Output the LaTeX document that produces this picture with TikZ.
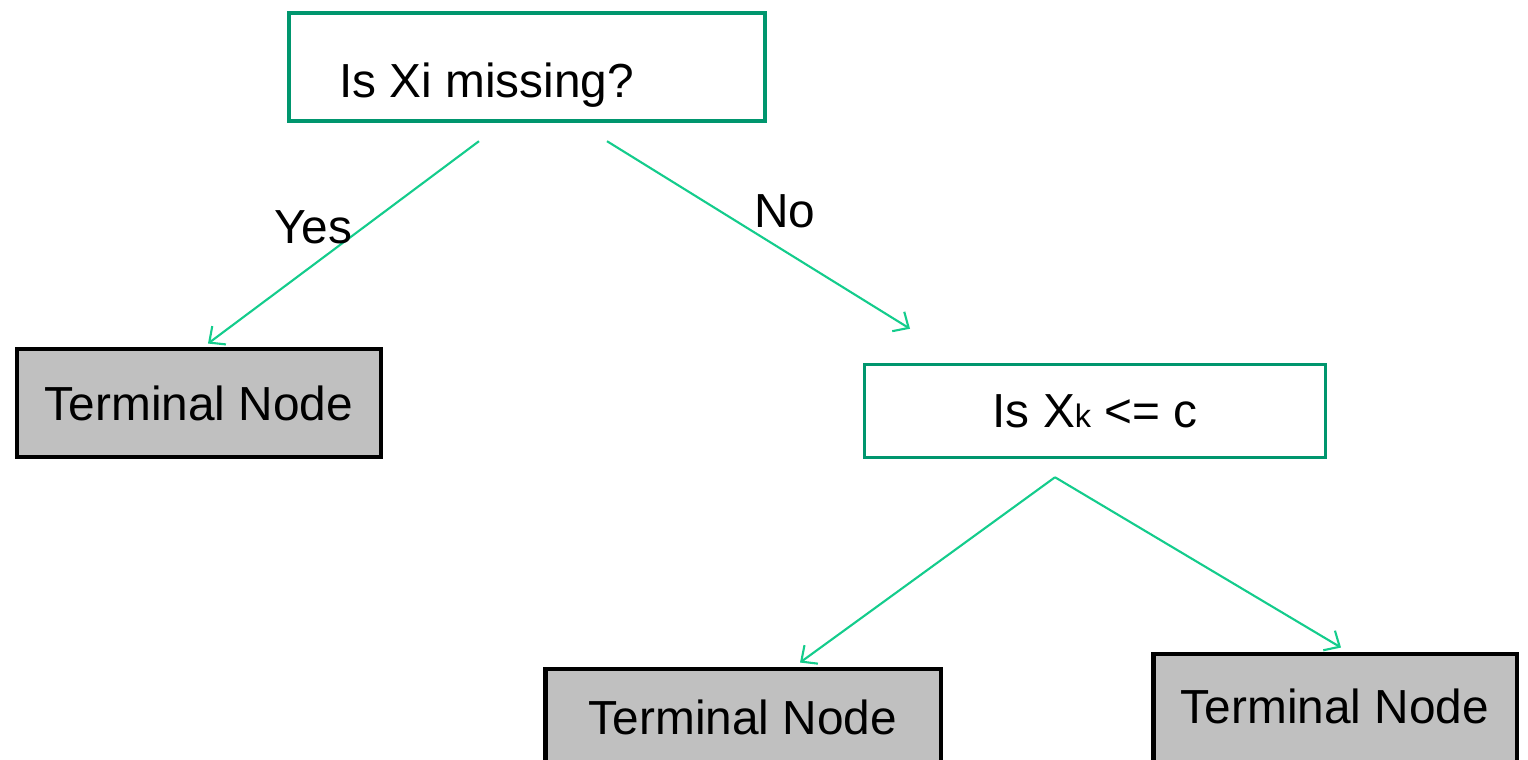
\documentclass[tikz,border=0pt]{standalone}
\usepackage{fontspec}
\setmainfont{Liberation Sans}
\usetikzlibrary{arrows.meta, calc}
\definecolor{boxgreen}{RGB}{0,150,110}
\definecolor{arrowgreen}{RGB}{20,204,140}
\definecolor{termgray}{RGB}{192,192,192}

\begin{document}
\begin{tikzpicture}[x=0.02cm, y=-0.02cm,
                every node/.style={font=\fontsize{27.2}{32}\selectfont, inner sep=0pt}, % same text size everywhere
                question/.style={draw=boxgreen, line width=2.5pt, fill=white}, % decision boxes
                terminal/.style={draw=black, line width=2.8pt, fill=termgray, minimum width=7.28cm, minimum height=2.16cm}, % leaves
                branch/.style={draw=arrowgreen, line width=1.2pt, -{Straight Barb[length=7pt, width=13pt]}} % edges
                ]
                \clip (0,0) rectangle (1528,760);
                % decisions
                \node[question, minimum width=9.52cm, minimum height=2.16cm] (q1) at (527,67) {};
                \node[anchor=base west] (q1text) at (339,98) {Is Xi missing?};
                \node[question, line width=2pt, minimum width=9.22cm, minimum height=1.86cm] (q2) at (1095,411) {Is X{\fontsize{18.5}{20}\selectfont k} <= c};
                % terminal nodes
                \node[terminal] (t1) at (199,403) {Terminal Node};
                \node[terminal, minimum width=7.92cm, minimum height=2.6cm] (t2) at (743,734) {};
                \node[anchor=base] (t2text) at (743,734) {Terminal Node};
                \node[terminal, minimum height=2.6cm] (t3) at (1335,719) {};
                \node[anchor=base] (t3text) at (1335,723) {Terminal Node};
                % branch ends
                \coordinate (q1yes) at ($(q1.south)+(-48,18)$);
                \coordinate (q1no) at ($(q1.south)+(80,18)$);
                \coordinate (q2in) at ($(q2.north)+(-185,-34)$);
                \coordinate (q2out) at ($(q2.south)+(-40,18)$);
                \draw[branch] (q1yes) -- ($(t1.north)+(9,-3)$);
                \draw[branch] (q1no) -- (q2in);
                \draw[branch] (q2out) -- ($(t2.north)+(57,-4)$);
                \draw[branch] (q2out) -- ($(t3.north)+(6,-4)$);
                \node[anchor=base west] (yes) at (274,244) {Yes};
                \node[anchor=base west] (no) at (754,228) {No};
            \end{tikzpicture}
\end{document}
